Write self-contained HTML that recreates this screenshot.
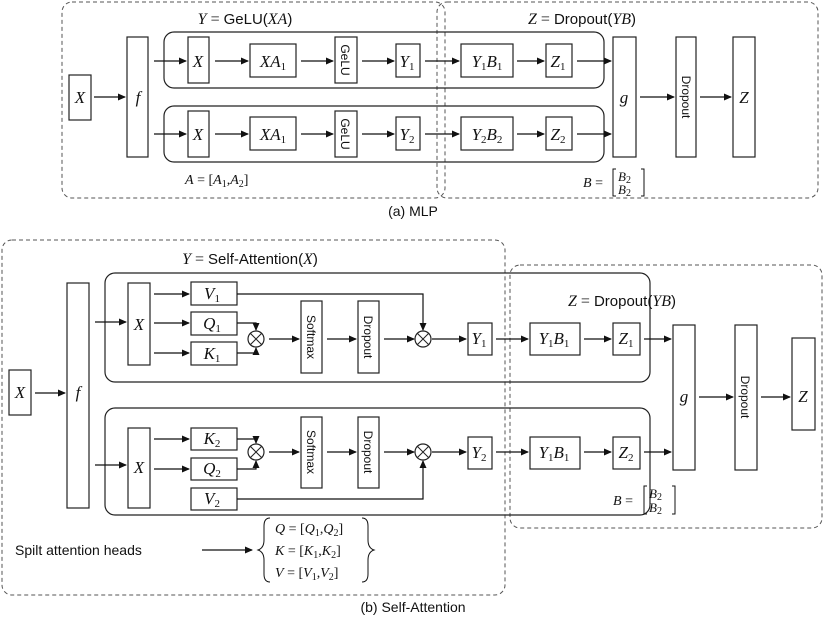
<!DOCTYPE html>
<html><head><meta charset="utf-8"><style>
body{margin:0;background:#fff}
svg text{font-family:"Liberation Serif",serif;fill:#111}
.s{font-family:"Liberation Sans",sans-serif}
</style></head><body>
<svg width="825" height="618" viewBox="0 0 825 618" xmlns="http://www.w3.org/2000/svg">
<defs><marker id="a" markerWidth="8" markerHeight="8" refX="7" refY="4" orient="auto" markerUnits="userSpaceOnUse"><path d="M0,0.5 L8,4 L0,7.5z" fill="#111"/></marker></defs>
<g fill="none" stroke="#555" stroke-width="1" stroke-dasharray="4,3">
<rect x="62" y="2" width="383" height="196" rx="10"/>
<rect x="437" y="2" width="381" height="196" rx="10"/>
<rect x="2" y="240" width="503" height="355" rx="10"/>
<rect x="510" y="265" width="312" height="263" rx="10"/>
</g>
<g fill="none" stroke="#222" stroke-width="1.2">
<rect x="164" y="32" width="440" height="56" rx="10"/>
<rect x="164" y="106" width="440" height="56" rx="10"/>
<rect x="69" y="75" width="22" height="45"/>
<rect x="127" y="37" width="21" height="120"/>
<rect x="188" y="37" width="21" height="46"/><rect x="188" y="111" width="21" height="46"/>
<rect x="250" y="44" width="46" height="33"/><rect x="250" y="117" width="46" height="33"/>
<rect x="335" y="37" width="22" height="46"/><rect x="335" y="111" width="22" height="46"/>
<rect x="396" y="44" width="24" height="33"/><rect x="396" y="117" width="24" height="33"/>
<rect x="461" y="44" width="52" height="33"/><rect x="461" y="117" width="52" height="33"/>
<rect x="546" y="44" width="26" height="33"/><rect x="546" y="117" width="26" height="33"/>
<rect x="613" y="37" width="23" height="120"/>
<rect x="676" y="37" width="20" height="120"/>
<rect x="733" y="37" width="22" height="120"/>
<rect x="105" y="273" width="545" height="109" rx="10"/>
<rect x="105" y="408" width="545" height="107" rx="10"/>
<rect x="9" y="370" width="22" height="45"/>
<rect x="67" y="283" width="22" height="225"/>
<rect x="128" y="283" width="22" height="82"/><rect x="128" y="428" width="22" height="80"/>
<rect x="191" y="282" width="46" height="23"/><rect x="191" y="312" width="46" height="23"/><rect x="191" y="342" width="46" height="23"/>
<rect x="191" y="428" width="46" height="22"/><rect x="191" y="458" width="46" height="22"/><rect x="191" y="488" width="46" height="22"/>
<rect x="301" y="301" width="21" height="72"/><rect x="358" y="301" width="21" height="72"/>
<rect x="301" y="417" width="21" height="71"/><rect x="358" y="417" width="21" height="71"/>
<circle cx="256" cy="339" r="8"/><circle cx="423" cy="339" r="8"/>
<circle cx="256" cy="452" r="8"/><circle cx="423" cy="452" r="8"/>
<path d="M250,333l12,12M262,333l-12,12M417,333l12,12M429,333l-12,12M250,446l12,12M262,446l-12,12M417,446l12,12M429,446l-12,12" stroke-width="1"/>
<rect x="468" y="323" width="24" height="32"/><rect x="468" y="437" width="24" height="32"/>
<rect x="530" y="323" width="50" height="32"/><rect x="530" y="437" width="50" height="32"/>
<rect x="613" y="323" width="27" height="32"/><rect x="613" y="437" width="27" height="32"/>
<rect x="673" y="325" width="22" height="145"/>
<rect x="735" y="325" width="22" height="145"/>
<rect x="792" y="338" width="23" height="92"/>
</g>
<g stroke="#111" stroke-width="1.2" fill="none" marker-end="url(#a)">
<path d="M94,97H125"/>
<path d="M154,61H186"/><path d="M154,134H186"/>
<path d="M215,61H248"/><path d="M215,134H248"/>
<path d="M301,61H333"/><path d="M301,134H333"/>
<path d="M362,61H394"/><path d="M362,134H394"/>
<path d="M425,61H459"/><path d="M425,134H459"/>
<path d="M517,61H544"/><path d="M517,134H544"/>
<path d="M577,61H611"/><path d="M577,134H611"/>
<path d="M640,97H674"/><path d="M700,97H731"/>
<path d="M35,393H65"/>
<path d="M95,322H126"/><path d="M95,465H126"/>
<path d="M154,294H189"/><path d="M154,323H189"/><path d="M154,353H189"/>
<path d="M154,439H189"/><path d="M154,469H189"/>
<path d="M237,323H256V330"/><path d="M237,353H256V348"/>
<path d="M237,439H256V443"/><path d="M237,469H256V461"/>
<path d="M237,294H423V330"/><path d="M237,499H423V461"/>
<path d="M269,339H299"/><path d="M327,339H356"/><path d="M384,339H414"/><path d="M432,339H466"/>
<path d="M269,452H299"/><path d="M327,452H356"/><path d="M384,452H414"/><path d="M432,452H466"/>
<path d="M496,339H528"/><path d="M496,452H528"/>
<path d="M584,339H611"/><path d="M584,452H611"/>
<path d="M644,339H671"/><path d="M644,452H671"/>
<path d="M699,397H733"/><path d="M761,397H790"/>
<path d="M202,550H252"/>
</g>
<g font-size="17" text-anchor="middle" font-style="italic">
<text x="80" y="103">X</text><text x="138" y="103">f</text>
<text x="198" y="67">X</text><text x="198" y="140">X</text>
<text x="273" y="67">XA<tspan font-size="11" font-style="normal" dy="3">1</tspan></text>
<text x="273" y="140">XA<tspan font-size="11" font-style="normal" dy="3">1</tspan></text>
<text x="407" y="67">Y<tspan font-size="11" font-style="normal" dy="3">1</tspan></text>
<text x="407" y="140">Y<tspan font-size="11" font-style="normal" dy="3">2</tspan></text>
<text x="487" y="67">Y<tspan font-size="11" font-style="normal" dy="3">1</tspan><tspan dy="-3">B</tspan><tspan font-size="11" font-style="normal" dy="3">1</tspan></text>
<text x="487" y="140">Y<tspan font-size="11" font-style="normal" dy="3">2</tspan><tspan dy="-3">B</tspan><tspan font-size="11" font-style="normal" dy="3">2</tspan></text>
<text x="558" y="67">Z<tspan font-size="11" font-style="normal" dy="3">1</tspan></text>
<text x="558" y="140">Z<tspan font-size="11" font-style="normal" dy="3">2</tspan></text>
<text x="624" y="103">g</text><text x="744" y="103">Z</text>
<text x="20" y="398">X</text><text x="78" y="398">f</text>
<text x="139" y="330">X</text><text x="139" y="473">X</text>
<text x="212" y="299">V<tspan font-size="11" font-style="normal" dy="3">1</tspan></text>
<text x="212" y="329">Q<tspan font-size="11" font-style="normal" dy="3">1</tspan></text>
<text x="212" y="359">K<tspan font-size="11" font-style="normal" dy="3">1</tspan></text>
<text x="212" y="444">K<tspan font-size="11" font-style="normal" dy="3">2</tspan></text>
<text x="212" y="474">Q<tspan font-size="11" font-style="normal" dy="3">2</tspan></text>
<text x="212" y="504">V<tspan font-size="11" font-style="normal" dy="3">2</tspan></text>
<text x="479" y="344">Y<tspan font-size="11" font-style="normal" dy="3">1</tspan></text>
<text x="479" y="458">Y<tspan font-size="11" font-style="normal" dy="3">2</tspan></text>
<text x="554" y="344">Y<tspan font-size="11" font-style="normal" dy="3">1</tspan><tspan dy="-3">B</tspan><tspan font-size="11" font-style="normal" dy="3">1</tspan></text>
<text x="554" y="458">Y<tspan font-size="11" font-style="normal" dy="3">1</tspan><tspan dy="-3">B</tspan><tspan font-size="11" font-style="normal" dy="3">1</tspan></text>
<text x="626" y="344">Z<tspan font-size="11" font-style="normal" dy="3">1</tspan></text>
<text x="626" y="458">Z<tspan font-size="11" font-style="normal" dy="3">2</tspan></text>
<text x="684" y="402">g</text><text x="803" y="402">Z</text>
</g>
<g font-size="12">
<text transform="translate(341,60) rotate(90)" text-anchor="middle" class="s">GeLU</text>
<text transform="translate(341,134) rotate(90)" text-anchor="middle" class="s">GeLU</text>
<text transform="translate(682,97) rotate(90)" text-anchor="middle" class="s">Dropout</text>
<text transform="translate(307,337) rotate(90)" text-anchor="middle" class="s">Softmax</text>
<text transform="translate(364,337) rotate(90)" text-anchor="middle" class="s">Dropout</text>
<text transform="translate(307,452) rotate(90)" text-anchor="middle" class="s">Softmax</text>
<text transform="translate(364,452) rotate(90)" text-anchor="middle" class="s">Dropout</text>
<text transform="translate(741,397) rotate(90)" text-anchor="middle" class="s">Dropout</text>
</g>
<g font-size="16">
<text x="245" y="24" text-anchor="middle"><tspan font-style="italic">Y</tspan> = <tspan class="s" font-size="15">GeLU(</tspan><tspan font-style="italic">XA</tspan><tspan class="s" font-size="15">)</tspan></text>
<text x="582" y="24" text-anchor="middle"><tspan font-style="italic">Z</tspan> = <tspan class="s" font-size="15">Dropout(</tspan><tspan font-style="italic">YB</tspan><tspan class="s" font-size="15">)</tspan></text>
<text x="250" y="264" text-anchor="middle"><tspan font-style="italic">Y</tspan> = <tspan class="s" font-size="15">Self-Attention(</tspan><tspan font-style="italic">X</tspan><tspan class="s" font-size="15">)</tspan></text>
<text x="622" y="306" text-anchor="middle"><tspan font-style="italic">Z</tspan> = <tspan class="s" font-size="15">Dropout(</tspan><tspan font-style="italic">YB</tspan><tspan class="s" font-size="15">)</tspan></text>
<text x="185" y="184" font-size="14"><tspan font-style="italic">A</tspan> = [<tspan font-style="italic">A</tspan><tspan font-size="10" dy="3">1</tspan><tspan dy="-3">,</tspan><tspan font-style="italic">A</tspan><tspan font-size="10" dy="3">2</tspan><tspan dy="-3">]</tspan></text>
<text x="583" y="187" font-size="14"><tspan font-style="italic">B</tspan> =</text>
<text x="613" y="505" font-size="14"><tspan font-style="italic">B</tspan> =</text>
</g>
<g stroke="#111" fill="none" stroke-width="1">
<path d="M616,169h-3v27h3M641,169h3v27h-3"/>
<path d="M647,486h-3v28h3M672,486h3v28h-3"/>
<path d="M270,518q-6,0 -6,8v14q0,8 -6,10q6,2 6,10v14q0,8 6,8"/>
<path d="M362,518q6,0 6,8v14q0,8 6,10q-6,2 -6,10v14q0,8 -6,8"/>
</g>
<g font-size="13" font-style="italic">
<text x="618" y="181">B<tspan font-size="10" font-style="normal" dy="2">2</tspan></text>
<text x="618" y="194">B<tspan font-size="10" font-style="normal" dy="2">2</tspan></text>
<text x="649" y="498">B<tspan font-size="10" font-style="normal" dy="2">2</tspan></text>
<text x="649" y="512">B<tspan font-size="10" font-style="normal" dy="2">2</tspan></text>
</g>
<g font-size="14">
<text x="275" y="533"><tspan font-style="italic">Q</tspan> = [<tspan font-style="italic">Q</tspan><tspan font-size="10" dy="3">1</tspan><tspan dy="-3">,</tspan><tspan font-style="italic">Q</tspan><tspan font-size="10" dy="3">2</tspan><tspan dy="-3">]</tspan></text>
<text x="275" y="555"><tspan font-style="italic">K</tspan> = [<tspan font-style="italic">K</tspan><tspan font-size="10" dy="3">1</tspan><tspan dy="-3">,</tspan><tspan font-style="italic">K</tspan><tspan font-size="10" dy="3">2</tspan><tspan dy="-3">]</tspan></text>
<text x="275" y="577"><tspan font-style="italic">V</tspan> = [<tspan font-style="italic">V</tspan><tspan font-size="10" dy="3">1</tspan><tspan dy="-3">,</tspan><tspan font-style="italic">V</tspan><tspan font-size="10" dy="3">2</tspan><tspan dy="-3">]</tspan></text>
</g>
<text x="15" y="555" class="s" font-size="14">Spilt attention heads</text>
<text x="413" y="216" class="s" font-size="14" text-anchor="middle">(a) MLP</text>
<text x="413" y="612" class="s" font-size="14" text-anchor="middle">(b) Self-Attention</text>
</svg>
</body></html>
